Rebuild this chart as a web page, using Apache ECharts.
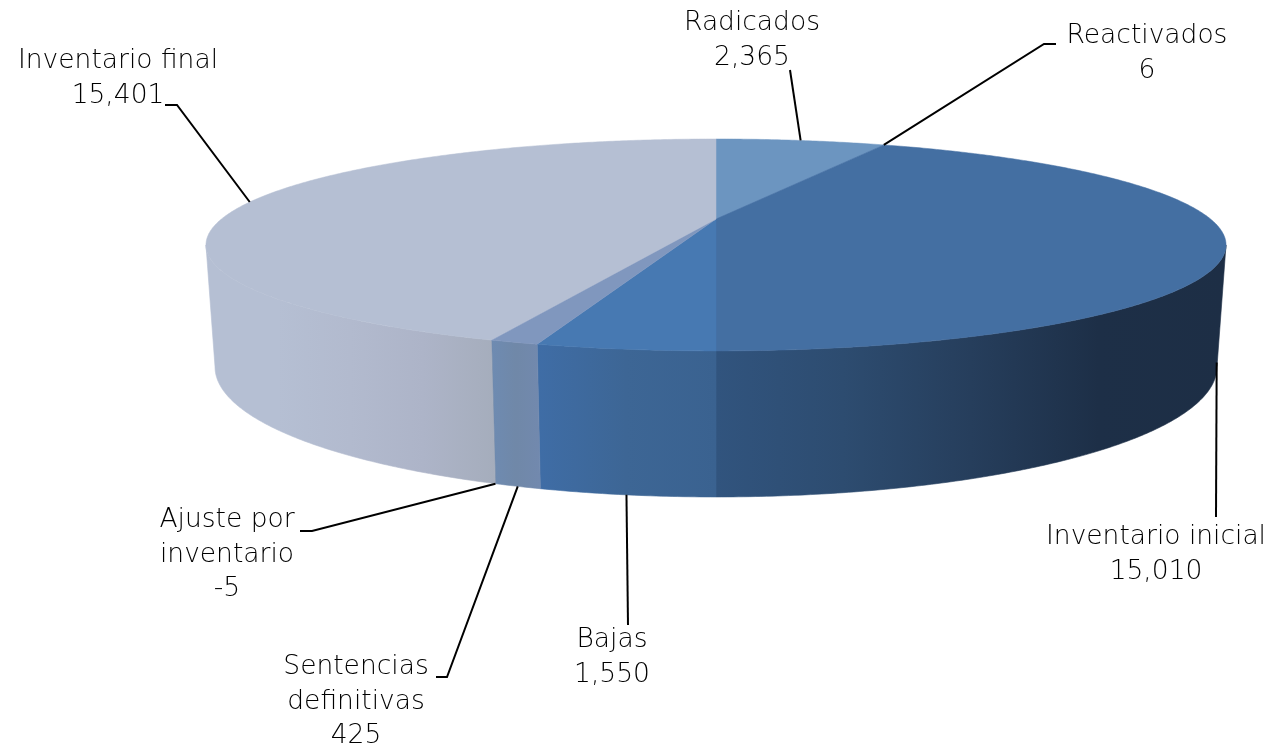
<!DOCTYPE html>
<html><head><meta charset="utf-8">
<style>html,body{margin:0;padding:0;background:#fff}#c{width:1272px;height:748px}</style>
<script src="https://cdn.jsdelivr.net/npm/echarts@6/dist/echarts.min.js"></script>
</head><body><div id="c"></div>
<script>
// Data
const categories = ['Radicados','Reactivados','Inventario inicial','Bajas','Sentencias\ndefinitivas','Ajuste por\ninventario','Inventario final'];
const values = [2365,6,15010,1550,425,-5,15401];

// Styles
const topColors = ['#6C95C0','#6C95C0','#446FA2','#4779B2','#8097BE','#8097BE','#B5BFD3'];
const wallStops = [
  ['#6C95C0','#6C95C0'],
  ['#6C95C0','#6C95C0'],
  ['#31547E','#2D4C70','#263E5C','#1D2F47','#1D2E45'],
  ['#3F6DA6','#3D6695','#3A6290'],
  ['#6E8BB2','#7088A8','#7289AE'],
  ['#7088A8','#7088A8'],
  ['#B5BFD3','#B5BFD3','#B2BACE','#ADB4C8','#A5ADBC']
];
// Label layout: text centre, first-line middle, leader points from label side
const labelAt = [[752,23],[1147,36],[1156,537],[612,640],[356,667],[227,520],[118,61]];
const leaderFrom = [
  [[790,70]],
  [[1056,44],[1044,44]],
  [[1216,517]],
  [[628,625]],
  [[436,677],[447,677]],
  [[300,531],[312,531]],
  [[165,105],[177,105]]
];
const anchorOnBase = [false,false,true,true,true,true,false];

// Projection of the pie's top and base discs
const K = 0.245;
const topDisc = {cx:716, cy:219, a:99.6, b:494.5};
const baseDisc = {cx:716, cy:335.1, a:122.2, b:485.7};
const FRONT_START = 180-Math.acos(K)*180/Math.PI, FRONT_END = 180+Math.acos(K)*180/Math.PI;

function project(d,deg){
  const t = deg*Math.PI/180, u = Math.sin(t), v = Math.cos(t), w = 1+K*v;
  return [d.cx + d.b*u/w, d.cy - d.a*v/w];
}
const total = values.reduce((s,v)=>s+Math.abs(v),0);
const angle = x => echarts.number.linearMap(x,[0,total],[0,360]);
let run = 0;
const spans = values.map(v=>{const s=run; run+=Math.abs(v); return [angle(s),angle(run)];});
function arc(d,a0,a1){
  const n = Math.max(2,Math.ceil(Math.abs(a1-a0)*2)), pts=[];
  for(let i=0;i<=n;i++) pts.push(project(d,a0+(a1-a0)*i/n));
  return pts;
}
const fmt = v => (v<0?'-':'')+Math.abs(v).toString().replace(/\B(?=(\d{3})+$)/g,',');
const rows = values.map((v,i)=>[i,v]);
const gradient = cols => ({type:'linear',x:0,y:0,x2:1,y2:0,
  colorStops:cols.map((c,i)=>({offset:i/(cols.length-1),color:c}))});

function wall(params){
  const i = params.dataIndex, [s,e] = spans[i];
  const a0 = Math.max(s,FRONT_START), a1 = Math.min(e,FRONT_END);
  if(a1<=a0) return {type:'group',children:[]};
  const pts = arc(topDisc,a0,a1).concat(arc(baseDisc,a0,a1).reverse());
  const g = gradient(wallStops[i]);
  return {type:'polygon',shape:{points:pts},style:{fill:g,stroke:g,lineWidth:0.6}};
}
function face(params){
  const i = params.dataIndex, [s,e] = spans[i];
  const pts = [[topDisc.cx,topDisc.cy]].concat(arc(topDisc,s,e));
  return {type:'polygon',shape:{points:pts},style:{fill:topColors[i],stroke:topColors[i],lineWidth:0.5}};
}
function leader(params){
  const i = params.dataIndex, [s,e] = spans[i];
  const end = project(anchorOnBase[i]?baseDisc:topDisc,(s+e)/2);
  return {type:'polyline',shape:{points:leaderFrom[i].concat([end])},
    style:{fill:null,stroke:'#000',lineWidth:2}};
}
function label(params,api){
  const i = params.dataIndex;
  return {type:'text',x:labelAt[i][0],y:labelAt[i][1]-17,style:{
    text:categories[i]+'\n'+fmt(api.value(1)),
    font:'200 26.5px "DejaVu Sans", sans-serif',lineHeight:34.5,
    fill:'#000',align:'center',verticalAlign:'top'}};
}
const base = {type:'custom',coordinateSystem:'none',data:rows,silent:true,animation:false,clip:false};
const chart = echarts.init(document.getElementById('c'),null,{renderer:'canvas',width:1272,height:748});
chart.setOption({
  backgroundColor:'#fff',animation:false,tooltip:{show:false},
  series:[
    {...base,name:'wall',renderItem:wall,z:1},
    {...base,name:'face',renderItem:face,z:2},
    {...base,name:'leader',renderItem:leader,z:3},
    {...base,name:'label',renderItem:label,z:4}
  ]
});
</script></body></html>
